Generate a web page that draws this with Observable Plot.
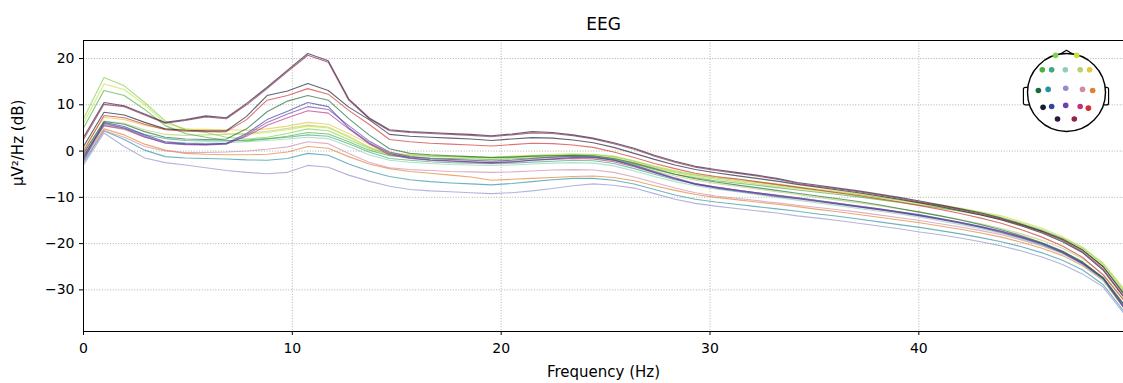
<!DOCTYPE html>
<html><head><meta charset="utf-8">
<script src="https://cdn.jsdelivr.net/npm/d3@7"></script>
<script src="https://cdn.jsdelivr.net/npm/@observablehq/plot@0.6"></script>
<style>
body{margin:0;background:#fff;}
#wrap{position:relative;width:1123px;height:383px;overflow:hidden;font-family:"DejaVu Sans",sans-serif;}
#head{position:absolute;left:1016px;top:42px;}
</style></head><body><div id="wrap"></div>
<script>
// Frequency bins (Hz)
const freqs = [0, 0.98, 1.95, 2.93, 3.91, 4.88, 5.86, 6.84, 7.81, 8.79, 9.77, 10.74, 11.72, 12.7, 13.67, 14.65, 15.63, 16.6, 17.58, 18.55, 19.53, 20.51, 21.48, 22.46, 23.44, 24.41, 25.39, 26.37, 27.34, 28.32, 29.3, 30.27, 31.25, 32.23, 33.2, 34.18, 35.16, 36.13, 37.11, 38.09, 39.06, 40.04, 41.02, 41.99, 42.97, 43.95, 44.92, 45.9, 46.88, 47.85, 48.83, 49.8];

const channels = ["Cz","C3","T4","C4","Fz","F3","F4","F8","F7","Fp2","Fp1","P4","Pz","P3","T3","T6","T5","O2","O1"];
const chColors = {Fp1:"#7cd24c",Fp2:"#c8e040",F7:"#48b040",F3:"#40a880",Fz:"#90d0b0",F4:"#b8d070",F8:"#e0c840",
  T3:"#1a6a3a",C3:"#2a90a0",Cz:"#9090c8",C4:"#d08aa8",T4:"#e08030",
  T5:"#151a30",P3:"#3840a0",Pz:"#7040b0",P4:"#c03080",T6:"#d03030",O1:"#2a1840",O2:"#8c2848"};

// PSD values (dB) per channel
const psd_O1 = [3.0,10.5,9.8,8.0,6.2,6.8,7.6,7.2,10.3,13.8,17.5,21.1,19.5,11.3,7.2,4.6,4.2,4.0,3.8,3.6,3.3,3.7,4.2,4.0,3.5,2.8,1.8,0.6,-0.9,-2.2,-3.3,-4.0,-4.6,-5.2,-5.9,-6.8,-7.4,-8.0,-8.6,-9.3,-10.0,-10.8,-11.6,-12.5,-13.4,-14.5,-15.8,-17.3,-19.0,-21.4,-25.0,-30.8];
const psd_O2 = [2.5,10.1,9.6,7.8,6.0,6.6,7.4,7.0,10.0,13.5,17.2,20.7,19.2,11.0,7.0,4.4,4.0,3.8,3.6,3.4,3.1,3.5,3.9,3.8,3.3,2.6,1.6,0.4,-1.1,-2.4,-3.5,-4.2,-4.8,-5.4,-6.1,-7.0,-7.6,-8.2,-8.8,-9.5,-10.2,-11.0,-11.8,-12.7,-13.6,-14.7,-16.0,-17.5,-19.3,-21.8,-25.5,-31.3];
const psd_T5 = [1.0,8.4,7.8,6.2,4.8,4.5,4.4,4.4,7.5,12.0,13.0,14.6,13.1,9.5,6.8,3.6,3.2,3.0,2.8,2.6,2.3,2.6,2.9,2.8,2.4,1.8,0.8,-0.5,-1.8,-3.0,-4.0,-4.7,-5.3,-5.9,-6.5,-7.2,-7.8,-8.4,-9.0,-9.7,-10.4,-11.2,-12.0,-12.9,-13.8,-14.9,-16.2,-17.7,-19.6,-22.0,-25.8,-31.5];
const psd_T6 = [0.0,7.7,7.2,5.8,4.6,4.3,4.2,4.2,6.8,11.0,12.0,13.5,12.3,8.8,5.8,2.5,2.0,1.7,1.5,1.3,1.1,1.4,1.7,1.6,1.3,0.8,-0.2,-1.4,-2.7,-3.8,-4.8,-5.5,-6.0,-6.6,-7.2,-7.8,-8.4,-9.0,-9.6,-10.3,-11.0,-11.8,-12.6,-13.5,-14.5,-15.6,-17.0,-18.6,-20.5,-23.0,-26.8,-32.2];
const psd_T3 = [-0.5,6.4,5.8,4.2,3.0,2.6,2.5,2.6,4.8,8.5,10.8,12.0,11.0,7.0,3.5,0.5,-0.5,-0.8,-1.0,-1.2,-1.4,-1.3,-1.1,-1.0,-0.9,-1.0,-1.6,-2.6,-3.8,-5.0,-6.0,-6.7,-7.3,-7.9,-8.5,-9.1,-9.7,-10.3,-10.9,-11.6,-12.4,-13.2,-14.0,-14.9,-15.9,-17.0,-18.3,-19.8,-21.6,-24.0,-27.5,-33.0];
const psd_P3 = [-1.5,6.2,5.3,3.5,2.0,1.6,1.5,1.7,3.8,6.8,8.6,10.5,9.6,5.0,1.8,-0.5,-1.5,-1.9,-2.1,-2.3,-2.5,-2.3,-2.0,-1.7,-1.4,-1.4,-2.0,-3.2,-4.6,-6.0,-7.2,-8.0,-8.6,-9.2,-9.8,-10.3,-10.9,-11.5,-12.1,-12.7,-13.3,-14.0,-14.8,-15.6,-16.5,-17.6,-18.8,-20.2,-22.0,-24.4,-27.6,-33.8];
const psd_Pz = [-2.0,6.0,5.0,3.2,1.7,1.4,1.3,1.5,3.5,6.2,8.0,9.6,9.0,5.5,2.2,-0.2,-1.2,-1.6,-1.8,-2.0,-2.2,-2.0,-1.6,-1.3,-1.1,-1.2,-1.9,-3.0,-4.4,-5.8,-7.0,-7.8,-8.4,-9.0,-9.5,-10.1,-10.7,-11.3,-11.9,-12.5,-13.1,-13.8,-14.6,-15.4,-16.3,-17.4,-18.6,-20.0,-21.8,-24.2,-27.4,-33.5];
const psd_P4 = [-1.0,5.5,4.8,3.0,1.8,1.5,1.4,1.6,3.2,5.6,7.2,8.7,8.2,4.8,1.6,-0.8,-1.6,-2.0,-2.2,-2.4,-2.6,-2.4,-2.0,-1.8,-1.6,-1.7,-2.3,-3.4,-4.7,-6.0,-7.1,-7.8,-8.4,-9.0,-9.6,-10.2,-10.8,-11.4,-12.0,-12.6,-13.2,-13.9,-14.7,-15.5,-16.4,-17.4,-18.6,-20.0,-21.8,-24.2,-27.5,-33.4];
const psd_Fp1 = [7.0,15.9,14.1,10.5,6.5,4.6,4.0,3.0,2.6,3.0,3.8,4.8,4.4,2.5,0.6,-0.8,-1.0,-1.1,-1.2,-1.3,-1.4,-1.3,-1.1,-0.9,-0.8,-0.8,-1.2,-2.2,-3.4,-4.4,-5.2,-5.8,-6.3,-6.8,-7.3,-7.9,-8.4,-8.9,-9.4,-10.0,-10.6,-11.2,-11.8,-12.5,-13.3,-14.3,-15.6,-17.0,-18.8,-21.0,-24.5,-30.0];
const psd_Fp2 = [6.0,14.5,13.3,10.0,6.0,4.8,4.4,3.8,3.6,4.0,4.6,5.4,5.0,3.0,0.8,-0.6,-0.8,-1.0,-1.1,-1.2,-1.3,-1.1,-0.9,-0.7,-0.6,-0.7,-1.1,-2.1,-3.2,-4.2,-5.0,-5.6,-6.1,-6.6,-7.1,-7.7,-8.2,-8.7,-9.2,-9.8,-10.4,-11.0,-11.6,-12.3,-13.1,-14.0,-15.3,-16.7,-18.5,-20.8,-24.2,-29.6];
const psd_F7 = [5.0,13.1,12.0,9.0,5.5,3.8,3.0,2.3,2.2,2.6,3.2,4.0,3.7,2.0,0.2,-1.0,-1.3,-1.5,-1.6,-1.7,-1.8,-1.7,-1.5,-1.3,-1.2,-1.3,-1.8,-2.8,-4.0,-5.0,-5.8,-6.4,-6.9,-7.4,-7.9,-8.4,-8.9,-9.4,-9.9,-10.5,-11.1,-11.7,-12.3,-13.0,-13.8,-14.8,-16.0,-17.4,-19.2,-21.5,-25.0,-30.6];
const psd_F8 = [0.5,7.3,6.8,5.6,4.8,4.7,4.7,4.6,4.5,4.8,5.4,6.2,5.8,3.8,1.5,-0.3,-0.8,-1.0,-1.2,-1.4,-1.5,-1.4,-1.2,-1.0,-0.9,-1.0,-1.5,-2.5,-3.6,-4.6,-5.5,-6.1,-6.6,-7.1,-7.6,-8.1,-8.6,-9.1,-9.7,-10.3,-10.9,-11.5,-12.2,-12.9,-13.7,-14.7,-15.9,-17.3,-19.1,-21.4,-24.9,-30.4];
const psd_F4 = [-0.5,6.5,6.0,4.6,3.6,3.4,3.5,3.6,3.8,4.3,4.9,5.6,5.2,3.2,0.9,-0.8,-1.3,-1.6,-1.8,-2.0,-2.1,-2.0,-1.8,-1.6,-1.5,-1.6,-2.1,-3.1,-4.3,-5.4,-6.3,-7.0,-7.6,-8.2,-8.8,-9.4,-10.0,-10.6,-11.2,-11.8,-12.5,-13.2,-14.0,-14.8,-15.7,-16.7,-17.9,-19.3,-21.0,-23.3,-26.6,-32.0];
const psd_F3 = [-1.0,5.8,5.0,3.6,2.7,2.3,2.2,2.2,2.4,2.7,3.0,3.5,3.2,1.6,-0.2,-1.6,-2.0,-2.3,-2.5,-2.6,-2.7,-2.6,-2.4,-2.2,-2.0,-2.1,-2.7,-3.8,-5.0,-6.2,-7.1,-7.8,-8.4,-9.0,-9.6,-10.1,-10.7,-11.3,-11.9,-12.5,-13.1,-13.8,-14.6,-15.4,-16.3,-17.3,-18.5,-19.9,-21.7,-24.0,-27.3,-33.0];
const psd_Fz = [-2.0,5.5,4.6,3.0,2.0,1.8,1.7,1.8,2.0,2.3,2.6,3.0,2.7,1.0,-0.8,-2.0,-2.4,-2.7,-2.9,-3.0,-3.1,-3.0,-2.8,-2.6,-2.5,-2.6,-3.2,-4.3,-5.5,-6.6,-7.5,-8.2,-8.8,-9.4,-10.0,-10.6,-11.2,-11.8,-12.4,-13.0,-13.6,-14.3,-15.1,-15.9,-16.8,-17.8,-19.0,-20.4,-22.2,-24.5,-27.9,-33.6];
const psd_Cz = [-3.0,3.9,1.0,-1.5,-2.5,-3.0,-3.6,-4.2,-4.6,-4.9,-4.6,-3.1,-3.5,-5.2,-6.5,-7.6,-8.3,-8.6,-8.8,-9.0,-9.2,-9.0,-8.6,-8.1,-7.5,-7.1,-7.4,-8.0,-9.2,-10.4,-11.3,-11.9,-12.4,-12.9,-13.4,-14.0,-14.5,-15.0,-15.6,-16.2,-16.8,-17.5,-18.1,-18.8,-19.6,-20.5,-21.6,-22.9,-24.5,-26.6,-29.4,-35.0];
const psd_C3 = [-2.5,4.4,2.5,0.2,-1.2,-1.5,-1.6,-1.7,-1.9,-2.0,-1.6,-0.5,-0.9,-2.8,-4.3,-5.5,-6.2,-6.6,-6.9,-7.1,-7.3,-7.0,-6.6,-6.2,-5.9,-5.9,-6.3,-7.1,-8.3,-9.5,-10.4,-11.0,-11.5,-12.0,-12.5,-13.0,-13.6,-14.1,-14.7,-15.3,-15.9,-16.5,-17.2,-17.9,-18.7,-19.6,-20.7,-22.0,-23.6,-25.7,-28.9,-34.5];
const psd_T4 = [-1.5,4.8,3.5,1.5,0.2,-0.5,-0.7,-0.8,-0.8,-0.7,-0.2,1.0,0.6,-1.2,-2.8,-3.8,-4.4,-4.8,-5.2,-5.6,-6.3,-6.1,-5.9,-5.7,-5.5,-5.4,-5.7,-6.4,-7.5,-8.5,-9.4,-10.0,-10.5,-11.0,-11.5,-12.0,-12.6,-13.1,-13.7,-14.3,-14.9,-15.5,-16.2,-16.9,-17.7,-18.6,-19.7,-21.0,-22.6,-24.8,-28.0,-33.8];
const psd_C4 = [-2.0,4.4,3.0,1.0,0.0,-0.3,-0.3,-0.2,0.0,0.4,0.9,2.0,1.6,-0.5,-2.4,-3.6,-4.0,-4.2,-4.4,-4.5,-4.6,-4.5,-4.3,-4.1,-4.0,-4.1,-4.6,-5.6,-6.8,-8.0,-9.0,-9.7,-10.2,-10.7,-11.2,-11.7,-12.2,-12.7,-13.2,-13.8,-14.4,-15.0,-15.7,-16.4,-17.2,-18.1,-19.2,-20.5,-22.1,-24.3,-27.6,-33.2];

const psdByChannel = {O1:psd_O1,O2:psd_O2,T5:psd_T5,T6:psd_T6,T3:psd_T3,P3:psd_P3,Pz:psd_Pz,P4:psd_P4,
  Fp1:psd_Fp1,Fp2:psd_Fp2,F7:psd_F7,F8:psd_F8,F4:psd_F4,F3:psd_F3,Fz:psd_Fz,Cz:psd_Cz,C3:psd_C3,T4:psd_T4,C4:psd_C4};

const xTicks = [0, 10, 20, 30, 40];
const yTicks = [-30, -20, -10, 0, 10, 20];

// Sensor layout of the head inset (normalised head units)
const sensorNames = ["Fp1","Fp2","F7","F3","Fz","F4","F8","T3","C3","Cz","C4","T4","T5","P3","Pz","P4","T6","O1","O2"];
const sensorU = [-0.28,0.26,-0.62,-0.38,-0.03,0.35,0.59,-0.72,-0.47,-0.02,0.41,0.67,-0.60,-0.38,-0.02,0.35,0.56,-0.23,0.20];
const sensorV = [0.95,0.95,0.58,0.58,0.58,0.58,0.58,0.05,0.08,0.11,0.08,0.05,-0.38,-0.36,-0.33,-0.36,-0.40,-0.68,-0.68];
const noseU = [-0.2, 0, 0.2];
const noseV = [0.96, 1.08, 0.96];
const earU1 = [-1.09, 0.90], earU2 = [-0.90, 1.09];
const earV1 = [-0.33, -0.33], earV2 = [0.12, 0.12];

const rows = [];
for (const ch of channels) {
  psdByChannel[ch].forEach((v, i) => rows.push({ch, f: freqs[i], db: v, color: chColors[ch]}));
}

const font = "DejaVu Sans, sans-serif";
const main = Plot.plot({
  width: 1123, height: 383,
  marginTop: 40, marginBottom: 52, marginLeft: 83, marginRight: 0,
  style: {fontFamily: font, fontSize: "14px", color: "#000", background: "#fff"},
  x: {domain: [0, 49.8]},
  y: {domain: [-39, 23.9]},
  color: {type: "identity"},
  marks: [
    Plot.gridX(xTicks, {stroke: "#a8a8a8", strokeOpacity: 1, strokeWidth: 0.9, strokeDasharray: "1,1.7"}),
    Plot.gridY(yTicks, {stroke: "#a8a8a8", strokeOpacity: 1, strokeWidth: 0.9, strokeDasharray: "1,1.7"}),
    Plot.line(rows, {x: "f", y: "db", z: "ch", stroke: "color", strokeWidth: 1.1, strokeOpacity: 0.68}),
    Plot.frame({stroke: "#000", strokeWidth: 1}),
    Plot.axisX(xTicks, {tickSize: 4, tickPadding: 8, label: null, fontSize: 14}),
    Plot.axisY(yTicks, {tickSize: 4, tickPadding: 5, label: null, fontSize: 14, tickFormat: d => d < 0 ? "\u2212" + Math.abs(d) : String(d)}),
    Plot.text(["Frequency (Hz)"], {frameAnchor: "bottom", dy: 45, fontSize: 15}),
    Plot.text(["µV²/Hz (dB)"], {frameAnchor: "left", dx: -65, rotate: -90, fontSize: 15}),
    Plot.text(["EEG"], {frameAnchor: "top", dy: -23, fontSize: 17})
  ]
});

const sensors = sensorNames.map((n, i) => ({n, u: sensorU[i], v: sensorV[i], color: chColors[n]}));
const nose = noseU.map((u, i) => ({u, v: noseV[i]}));
const ears = earU1.map((u, i) => ({u1: u, u2: earU2[i], v1: earV1[i], v2: earV2[i]}));

const head = Plot.plot({
  width: 100, height: 100, margin: 0,
  style: {background: "transparent", overflow: "visible"},
  x: {domain: [-1.28, 1.28], axis: null},
  y: {domain: [-1.28, 1.28], axis: null},
  color: {type: "identity"},
  marks: [
    Plot.rect(ears, {x1: "u1", x2: "u2", y1: "v1", y2: "v2", fill: "#fff", stroke: "#000", strokeWidth: 1.2, rx: 2}),
    Plot.line(nose, {x: "u", y: "v", stroke: "#000", strokeWidth: 1.3}),
    Plot.dot([{u: 0, v: 0}], {x: "u", y: "v", r: 39, fill: "#fff", stroke: "#000", strokeWidth: 1.4}),
    Plot.dot(sensors, {x: "u", y: "v", r: 2.8, fill: "color", stroke: "none"})
  ]
});
head.id = "head";

const wrap = document.getElementById("wrap");
wrap.appendChild(main);
wrap.appendChild(head);
</script>
</body></html>
